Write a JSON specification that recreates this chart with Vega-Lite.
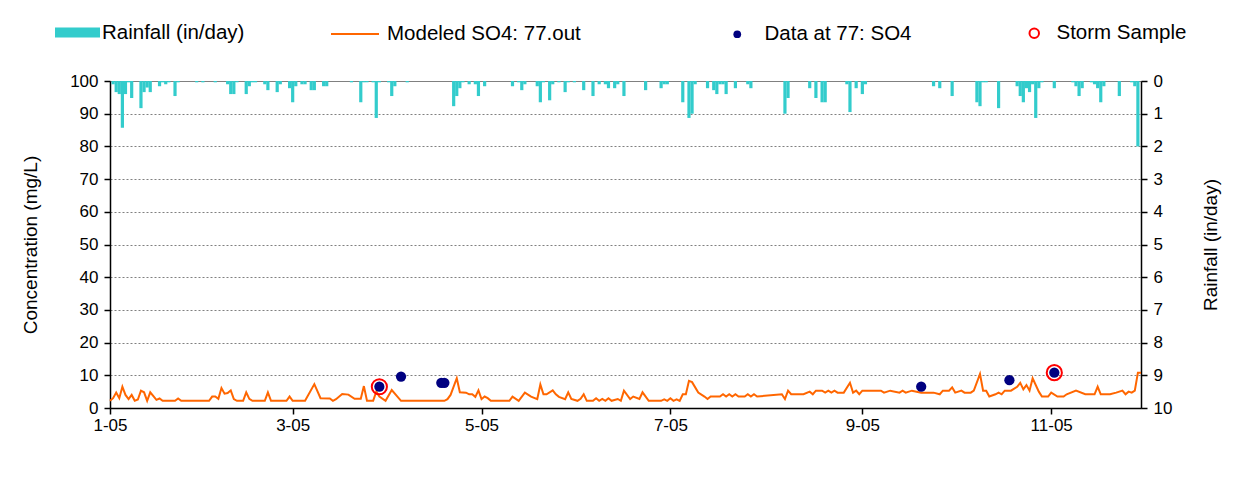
{
  "$schema": "https://vega.github.io/schema/vega-lite/v6.json",
  "width": 1031,
  "height": 327,
  "autosize": {"type": "none"},
  "padding": {"left": 110, "top": 81, "right": 94, "bottom": 75},
  "background": "white",
  "config": {
    "view": {"stroke": "#808080", "strokeWidth": 1},
    "font": "Liberation Sans",
    "axis": {"labelFont": "Liberation Sans", "titleFont": "Liberation Sans", "labelColor": "black", "titleColor": "black", "domainColor": "black", "tickColor": "black", "labelFontSize": 17, "titleFontSize": 19, "titleFontWeight": "normal", "domainWidth": 1.5, "tickWidth": 1.5, "tickSize": 6},
    "legend": {"labelFont": "Liberation Sans", "labelFontSize": 20.5, "labelColor": "black", "labelLimit": 400, "padding": 0, "title": null}
  },
  "datasets": {
    "rain": [
      {"date":"2005-01-02","rain":0.1},{"date":"2005-01-03","rain":0.34},{"date":"2005-01-04","rain":0.4},{"date":"2005-01-05","rain":1.43},{"date":"2005-01-06","rain":0.4},{"date":"2005-01-07","rain":0.04},{"date":"2005-01-08","rain":0.52},{"date":"2005-01-11","rain":0.83},{"date":"2005-01-12","rain":0.34},{"date":"2005-01-13","rain":0.2},{"date":"2005-01-14","rain":0.34},{"date":"2005-01-17","rain":0.16},{"date":"2005-01-18","rain":0.04},{"date":"2005-01-19","rain":0.1},{"date":"2005-01-20","rain":0.04},{"date":"2005-01-22","rain":0.46},{"date":"2005-01-23","rain":0.04},{"date":"2005-01-29","rain":0.04},{"date":"2005-01-31","rain":0.04},
      {"date":"2005-02-04","rain":0.04},{"date":"2005-02-08","rain":0.1},{"date":"2005-02-09","rain":0.4},{"date":"2005-02-10","rain":0.4},{"date":"2005-02-11","rain":0.04},{"date":"2005-02-14","rain":0.4},{"date":"2005-02-15","rain":0.16},{"date":"2005-02-16","rain":0.04},{"date":"2005-02-17","rain":0.04},{"date":"2005-02-20","rain":0.1},{"date":"2005-02-21","rain":0.28},{"date":"2005-02-24","rain":0.34},{"date":"2005-02-25","rain":0.1},{"date":"2005-02-28","rain":0.22},
      {"date":"2005-03-01","rain":0.65},{"date":"2005-03-02","rain":0.16},{"date":"2005-03-04","rain":0.1},{"date":"2005-03-05","rain":0.1},{"date":"2005-03-07","rain":0.28},{"date":"2005-03-08","rain":0.28},{"date":"2005-03-11","rain":0.16},{"date":"2005-03-12","rain":0.16},{"date":"2005-03-20","rain":0.04},{"date":"2005-03-23","rain":0.65},{"date":"2005-03-24","rain":0.04},{"date":"2005-03-25","rain":0.04},{"date":"2005-03-27","rain":0.04},{"date":"2005-03-28","rain":1.13},{"date":"2005-03-29","rain":0.04},
      {"date":"2005-04-01","rain":0.04},{"date":"2005-04-02","rain":0.46},{"date":"2005-04-03","rain":0.16},{"date":"2005-04-07","rain":0.04},{"date":"2005-04-22","rain":0.77},{"date":"2005-04-23","rain":0.46},{"date":"2005-04-24","rain":0.22},{"date":"2005-04-25","rain":0.04},{"date":"2005-04-27","rain":0.1},{"date":"2005-04-29","rain":0.1},{"date":"2005-04-30","rain":0.46},
      {"date":"2005-05-02","rain":0.16},{"date":"2005-05-11","rain":0.16},{"date":"2005-05-13","rain":0.04},{"date":"2005-05-14","rain":0.28},{"date":"2005-05-15","rain":0.1},{"date":"2005-05-19","rain":0.16},{"date":"2005-05-20","rain":0.65},{"date":"2005-05-21","rain":0.04},{"date":"2005-05-23","rain":0.59},{"date":"2005-05-24","rain":0.1},{"date":"2005-05-26","rain":0.04},{"date":"2005-05-28","rain":0.34},{"date":"2005-05-29","rain":0.04},{"date":"2005-05-31","rain":0.04},
      {"date":"2005-06-03","rain":0.28},{"date":"2005-06-06","rain":0.46},{"date":"2005-06-08","rain":0.1},{"date":"2005-06-10","rain":0.1},{"date":"2005-06-11","rain":0.22},{"date":"2005-06-13","rain":0.22},{"date":"2005-06-14","rain":0.1},{"date":"2005-06-16","rain":0.46},{"date":"2005-06-23","rain":0.28},{"date":"2005-06-28","rain":0.22},{"date":"2005-06-29","rain":0.1},{"date":"2005-06-30","rain":0.1},
      {"date":"2005-07-05","rain":0.65},{"date":"2005-07-07","rain":1.13},{"date":"2005-07-08","rain":1.0},{"date":"2005-07-09","rain":0.1},{"date":"2005-07-13","rain":0.22},{"date":"2005-07-15","rain":0.28},{"date":"2005-07-16","rain":0.4},{"date":"2005-07-17","rain":0.1},{"date":"2005-07-18","rain":0.1},{"date":"2005-07-19","rain":0.4},{"date":"2005-07-22","rain":0.22},{"date":"2005-07-26","rain":0.1},{"date":"2005-07-27","rain":0.22},
      {"date":"2005-08-07","rain":1.0},{"date":"2005-08-08","rain":0.52},{"date":"2005-08-15","rain":0.22},{"date":"2005-08-17","rain":0.52},{"date":"2005-08-19","rain":0.65},{"date":"2005-08-20","rain":0.65},{"date":"2005-08-27","rain":0.1},{"date":"2005-08-28","rain":0.95},{"date":"2005-08-30","rain":0.22},
      {"date":"2005-09-01","rain":0.4},{"date":"2005-09-02","rain":0.1},{"date":"2005-09-24","rain":0.16},{"date":"2005-09-26","rain":0.22},{"date":"2005-09-30","rain":0.46},
      {"date":"2005-10-08","rain":0.65},{"date":"2005-10-09","rain":0.77},{"date":"2005-10-10","rain":0.04},{"date":"2005-10-11","rain":0.04},{"date":"2005-10-15","rain":0.83},{"date":"2005-10-21","rain":0.16},{"date":"2005-10-22","rain":0.46},{"date":"2005-10-23","rain":0.65},{"date":"2005-10-24","rain":0.22},{"date":"2005-10-25","rain":0.34},{"date":"2005-10-26","rain":0.1},{"date":"2005-10-27","rain":1.13},{"date":"2005-10-28","rain":0.22},{"date":"2005-10-29","rain":0.04},
      {"date":"2005-11-02","rain":0.22},{"date":"2005-11-08","rain":0.04},{"date":"2005-11-09","rain":0.16},{"date":"2005-11-10","rain":0.46},{"date":"2005-11-11","rain":0.22},{"date":"2005-11-14","rain":0.04},{"date":"2005-11-15","rain":0.1},{"date":"2005-11-16","rain":0.22},{"date":"2005-11-17","rain":0.65},{"date":"2005-11-18","rain":0.16},{"date":"2005-11-23","rain":0.46},{"date":"2005-11-27","rain":0.04},{"date":"2005-11-28","rain":0.16},{"date":"2005-11-29","rain":2.0}
    ],
    "model": [
      {"date":"2005-01-01","so4":2.2},{"date":"2005-01-02","so4":3.0},{"date":"2005-01-03","so4":4.7},{"date":"2005-01-04","so4":3.0},{"date":"2005-01-05","so4":6.5},{"date":"2005-01-06","so4":4.0},{"date":"2005-01-07","so4":2.7},{"date":"2005-01-08","so4":4.0},{"date":"2005-01-09","so4":2.2},{"date":"2005-01-10","so4":2.6},{"date":"2005-01-11","so4":5.3},{"date":"2005-01-12","so4":4.8},{"date":"2005-01-13","so4":2.2},{"date":"2005-01-14","so4":4.8},{"date":"2005-01-16","so4":2.5},{"date":"2005-01-17","so4":2.9},{"date":"2005-01-18","so4":2.2},{"date":"2005-01-22","so4":2.2},{"date":"2005-01-23","so4":2.9},{"date":"2005-01-24","so4":2.2},
      {"date":"2005-02-02","so4":2.2},{"date":"2005-02-03","so4":3.5},{"date":"2005-02-04","so4":3.5},{"date":"2005-02-05","so4":2.8},{"date":"2005-02-06","so4":6.1},{"date":"2005-02-07","so4":4.4},{"date":"2005-02-08","so4":4.6},{"date":"2005-02-09","so4":5.4},{"date":"2005-02-10","so4":2.7},{"date":"2005-02-11","so4":2.2},{"date":"2005-02-13","so4":2.2},{"date":"2005-02-14","so4":4.8},{"date":"2005-02-15","so4":2.8},{"date":"2005-02-16","so4":2.2},{"date":"2005-02-20","so4":2.2},{"date":"2005-02-21","so4":4.8},{"date":"2005-02-22","so4":2.2},{"date":"2005-02-27","so4":2.2},{"date":"2005-02-28","so4":3.5},
      {"date":"2005-03-01","so4":2.2},{"date":"2005-03-05","so4":2.2},{"date":"2005-03-08","so4":7.3},{"date":"2005-03-10","so4":3.0},{"date":"2005-03-13","so4":2.9},{"date":"2005-03-14","so4":2.2},{"date":"2005-03-15","so4":2.7},{"date":"2005-03-17","so4":4.3},{"date":"2005-03-19","so4":4.1},{"date":"2005-03-21","so4":2.8},{"date":"2005-03-23","so4":2.8},{"date":"2005-03-24","so4":6.7},{"date":"2005-03-25","so4":2.2},{"date":"2005-03-27","so4":2.2},{"date":"2005-03-28","so4":5.0},{"date":"2005-03-29","so4":3.5},{"date":"2005-03-31","so4":2.2},
      {"date":"2005-04-02","so4":5.5},{"date":"2005-04-05","so4":2.2},{"date":"2005-04-17","so4":2.2},{"date":"2005-04-19","so4":2.2},{"date":"2005-04-20","so4":2.7},{"date":"2005-04-21","so4":4.0},{"date":"2005-04-23","so4":9.1},{"date":"2005-04-24","so4":4.8},{"date":"2005-04-26","so4":4.7},{"date":"2005-04-27","so4":4.2},{"date":"2005-04-28","so4":4.2},{"date":"2005-04-29","so4":3.4},{"date":"2005-04-30","so4":5.4},
      {"date":"2005-05-01","so4":2.7},{"date":"2005-05-02","so4":3.5},{"date":"2005-05-03","so4":3.0},{"date":"2005-05-04","so4":2.2},{"date":"2005-05-10","so4":2.2},{"date":"2005-05-11","so4":3.5},{"date":"2005-05-13","so4":2.2},{"date":"2005-05-15","so4":4.7},{"date":"2005-05-17","so4":3.5},{"date":"2005-05-19","so4":2.7},{"date":"2005-05-20","so4":7.2},{"date":"2005-05-21","so4":4.2},{"date":"2005-05-22","so4":4.2},{"date":"2005-05-24","so4":5.4},{"date":"2005-05-25","so4":4.2},{"date":"2005-05-26","so4":3.4},{"date":"2005-05-28","so4":2.7},{"date":"2005-05-29","so4":4.8},{"date":"2005-05-30","so4":2.8},
      {"date":"2005-06-01","so4":2.2},{"date":"2005-06-02","so4":2.8},{"date":"2005-06-03","so4":4.2},{"date":"2005-06-04","so4":2.2},{"date":"2005-06-06","so4":2.2},{"date":"2005-06-07","so4":3.0},{"date":"2005-06-08","so4":2.2},{"date":"2005-06-09","so4":2.75},{"date":"2005-06-10","so4":2.2},{"date":"2005-06-11","so4":3.0},{"date":"2005-06-12","so4":2.2},{"date":"2005-06-14","so4":2.75},{"date":"2005-06-15","so4":2.2},{"date":"2005-06-16","so4":5.3},{"date":"2005-06-18","so4":2.75},{"date":"2005-06-19","so4":3.5},{"date":"2005-06-21","so4":2.75},{"date":"2005-06-22","so4":4.8},{"date":"2005-06-24","so4":2.2},{"date":"2005-06-28","so4":2.2},{"date":"2005-06-29","so4":2.65},{"date":"2005-06-30","so4":2.2},
      {"date":"2005-07-01","so4":3.0},{"date":"2005-07-02","so4":2.2},{"date":"2005-07-03","so4":2.65},{"date":"2005-07-04","so4":2.2},{"date":"2005-07-05","so4":4.2},{"date":"2005-07-06","so4":4.2},{"date":"2005-07-07","so4":8.3},{"date":"2005-07-08","so4":7.9},{"date":"2005-07-10","so4":4.7},{"date":"2005-07-12","so4":3.5},{"date":"2005-07-13","so4":2.75},{"date":"2005-07-14","so4":3.5},{"date":"2005-07-17","so4":3.5},{"date":"2005-07-18","so4":4.2},{"date":"2005-07-19","so4":3.5},{"date":"2005-07-20","so4":4.2},{"date":"2005-07-21","so4":3.5},{"date":"2005-07-22","so4":4.2},{"date":"2005-07-23","so4":3.5},{"date":"2005-07-25","so4":3.5},{"date":"2005-07-26","so4":4.2},{"date":"2005-07-27","so4":3.5},{"date":"2005-07-28","so4":4.2},{"date":"2005-07-29","so4":3.5},
      {"date":"2005-08-06","so4":4.2},{"date":"2005-08-07","so4":2.75},{"date":"2005-08-08","so4":5.3},{"date":"2005-08-09","so4":4.2},{"date":"2005-08-13","so4":4.2},{"date":"2005-08-15","so4":5.0},{"date":"2005-08-16","so4":4.2},{"date":"2005-08-17","so4":5.3},{"date":"2005-08-19","so4":5.3},{"date":"2005-08-20","so4":4.7},{"date":"2005-08-21","so4":5.3},{"date":"2005-08-22","so4":4.7},{"date":"2005-08-23","so4":5.3},{"date":"2005-08-24","so4":4.7},{"date":"2005-08-26","so4":4.7},{"date":"2005-08-28","so4":7.7},{"date":"2005-08-29","so4":4.7},{"date":"2005-08-30","so4":5.3},{"date":"2005-08-31","so4":4.2},
      {"date":"2005-09-01","so4":5.3},{"date":"2005-09-07","so4":5.3},{"date":"2005-09-08","so4":4.7},{"date":"2005-09-10","so4":5.3},{"date":"2005-09-13","so4":4.7},{"date":"2005-09-14","so4":5.3},{"date":"2005-09-15","so4":4.7},{"date":"2005-09-17","so4":5.3},{"date":"2005-09-20","so4":4.7},{"date":"2005-09-24","so4":4.7},{"date":"2005-09-26","so4":4.2},{"date":"2005-09-27","so4":5.3},{"date":"2005-09-29","so4":5.3},{"date":"2005-09-30","so4":6.3},
      {"date":"2005-10-01","so4":4.7},{"date":"2005-10-03","so4":5.3},{"date":"2005-10-04","so4":4.7},{"date":"2005-10-06","so4":4.7},{"date":"2005-10-07","so4":5.3},{"date":"2005-10-09","so4":10.4},{"date":"2005-10-10","so4":5.3},{"date":"2005-10-11","so4":5.3},{"date":"2005-10-12","so4":3.5},{"date":"2005-10-14","so4":4.2},{"date":"2005-10-15","so4":4.7},{"date":"2005-10-16","so4":4.2},{"date":"2005-10-17","so4":5.3},{"date":"2005-10-19","so4":5.3},{"date":"2005-10-21","so4":6.5},{"date":"2005-10-22","so4":7.7},{"date":"2005-10-23","so4":5.7},{"date":"2005-10-24","so4":7.0},{"date":"2005-10-25","so4":5.3},{"date":"2005-10-26","so4":9.1},{"date":"2005-10-28","so4":5.0},{"date":"2005-10-29","so4":3.5},{"date":"2005-10-31","so4":3.5},
      {"date":"2005-11-01","so4":4.7},{"date":"2005-11-03","so4":3.5},{"date":"2005-11-05","so4":3.5},{"date":"2005-11-06","so4":4.2},{"date":"2005-11-09","so4":5.3},{"date":"2005-11-12","so4":4.2},{"date":"2005-11-15","so4":4.2},{"date":"2005-11-16","so4":6.5},{"date":"2005-11-17","so4":4.2},{"date":"2005-11-20","so4":4.2},{"date":"2005-11-22","so4":4.7},{"date":"2005-11-24","so4":5.3},{"date":"2005-11-25","so4":4.2},{"date":"2005-11-26","so4":5.0},{"date":"2005-11-27","so4":4.7},{"date":"2005-11-28","so4":5.3},{"date":"2005-11-29","so4":10.8},{"date":"2005-11-30","so4":10.8}
    ],
    "obs": [
      {"date":"2005-03-29","so4":6.5},{"date":"2005-04-05","so4":9.6},{"date":"2005-04-18","so4":7.7},{"date":"2005-04-19","so4":7.7},{"date":"2005-09-20","so4":6.5},{"date":"2005-10-18T12:00:00Z","so4":8.5},{"date":"2005-11-02","so4":10.8}
    ],
    "storm": [
      {"date":"2005-03-29","so4":6.5},{"date":"2005-11-02","so4":10.8}
    ]
  },
  "encoding": {
    "x": {
      "field": "date", "type": "temporal",
      "scale": {"type": "utc", "padding": 0, "nice": false, "domain": [{"year": 2005, "month": 1, "date": 1, "utc": true}, {"year": 2005, "month": 11, "date": 30, "utc": true}]},
      "axis": {"title": null, "format": "%-m-%y", "grid": false, "labelFlush": false, "tickSize": 6, "labelPadding": 3,
        "values": [{"year": 2005, "month": 1, "date": 1, "utc": true}, {"year": 2005, "month": 3, "date": 1, "utc": true}, {"year": 2005, "month": 5, "date": 1, "utc": true}, {"year": 2005, "month": 7, "date": 1, "utc": true}, {"year": 2005, "month": 9, "date": 1, "utc": true}, {"year": 2005, "month": 11, "date": 1, "utc": true}]}
    }
  },
  "layer": [
    {
      "data": {"name": "rain"},
      "mark": {"type": "bar", "width": 3.2, "opacity": 1},
      "encoding": {
        "y": {"field": "rain", "type": "quantitative", "scale": {"domain": [0, 10], "reverse": true, "nice": false, "zero": true},
          "axis": {"orient": "right", "title": "Rainfall (in/day)", "values": [0,1,2,3,4,5,6,7,8,9,10], "grid": false, "titleAngle": 270, "titlePadding": 49, "labelPadding": 6}},
        "color": {"datum": "Rainfall (in/day)", "type": "nominal", "scale": {"range": ["#33CCCC"]},
          "legend": {"orient": "none", "legendX": -55, "legendY": -71, "symbolType": "M-1,-0.22H1V0.22H-1Z", "symbolSize": 2025, "symbolStrokeWidth": 0, "labelOffset": 2}}
      }
    },
    {
      "data": {"name": "model"},
      "mark": {"type": "line", "strokeWidth": 2},
      "encoding": {
        "y": {"field": "so4", "type": "quantitative", "scale": {"domain": [0, 100], "nice": false},
          "axis": {"orient": "left", "title": "Concentration (mg/L)", "values": [0,10,20,30,40,50,60,70,80,90,100], "grid": true, "gridColor": "#808080", "gridDash": [2, 2], "gridWidth": 1, "titlePadding": 29, "labelPadding": 6}},
        "color": {"datum": "Modeled SO4: 77.out", "type": "nominal", "scale": {"range": ["#FF6600"]},
          "legend": {"orient": "none", "legendX": 220, "legendY": -72, "symbolType": "stroke", "symbolSize": 2304, "symbolStrokeWidth": 2, "labelOffset": 7}}
      }
    },
    {
      "data": {"name": "obs"},
      "mark": {"type": "point", "shape": "circle", "filled": true, "size": 105, "opacity": 1},
      "encoding": {
        "y": {"field": "so4", "type": "quantitative", "scale": {"domain": [0, 100], "nice": false}, "axis": null},
        "color": {"datum": "Data at 77: SO4", "type": "nominal", "scale": {"range": ["#000080"]},
          "legend": {"orient": "none", "legendX": 617, "legendY": -57, "symbolType": "circle", "symbolSize": 60, "symbolStrokeWidth": 0, "labelOffset": 17}}
      }
    },
    {
      "data": {"name": "storm"},
      "mark": {"type": "point", "shape": "circle", "filled": false, "size": 230, "strokeWidth": 2, "opacity": 1},
      "encoding": {
        "y": {"field": "so4", "type": "quantitative", "scale": {"domain": [0, 100], "nice": false}, "axis": null},
        "color": {"datum": "Storm Sample", "type": "nominal", "scale": {"range": ["#FF0000"]},
          "legend": {"orient": "none", "legendX": 914, "legendY": -58, "symbolType": "circle", "symbolSize": 90, "symbolStrokeWidth": 2, "symbolFillColor": "transparent", "labelOffset": 12}}
      }
    }
  ],
  "resolve": {"scale": {"y": "independent", "color": "independent"}, "axis": {"y": "independent"}, "legend": {"color": "independent"}}
}
